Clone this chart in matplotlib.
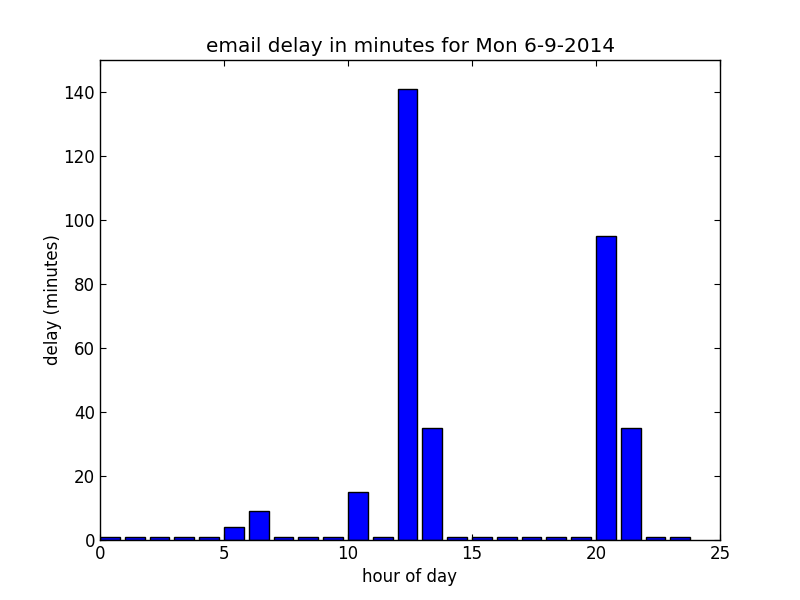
import numpy as np
import matplotlib
matplotlib.use('Agg')
import matplotlib.pyplot as plt

# hour of day and delay in minutes
hours = list(range(24))
delays = [1, 1, 1, 1, 1, 4, 9, 1, 1, 1, 15, 1, 141, 35,
          1, 1, 1, 1, 1, 1, 95, 35, 1, 1]

fig, ax = plt.subplots(figsize=(8, 6), dpi=100)
fig.subplots_adjust(left=0.125, right=0.9, bottom=0.1, top=0.9)

ax.bar(hours, delays, width=0.8, align='edge', color='blue',
       edgecolor='black', linewidth=1)

ax.set_xlim(0, 25)
ax.set_ylim(0, 150)
ax.set_xticks([0, 5, 10, 15, 20, 25])
ax.set_yticks(range(0, 141, 20))
ax.tick_params(direction='in', top=True, right=True, length=4, labelsize=12)
for s in ax.spines.values():
    s.set_linewidth(1)

ax.set_xlabel('hour of day', fontsize=12)
ax.set_ylabel('delay (minutes)', fontsize=12, labelpad=1)
ax.set_title('email delay in minutes for Mon 6-9-2014', fontsize=14.4)

fig.savefig('out.png', dpi=100)
